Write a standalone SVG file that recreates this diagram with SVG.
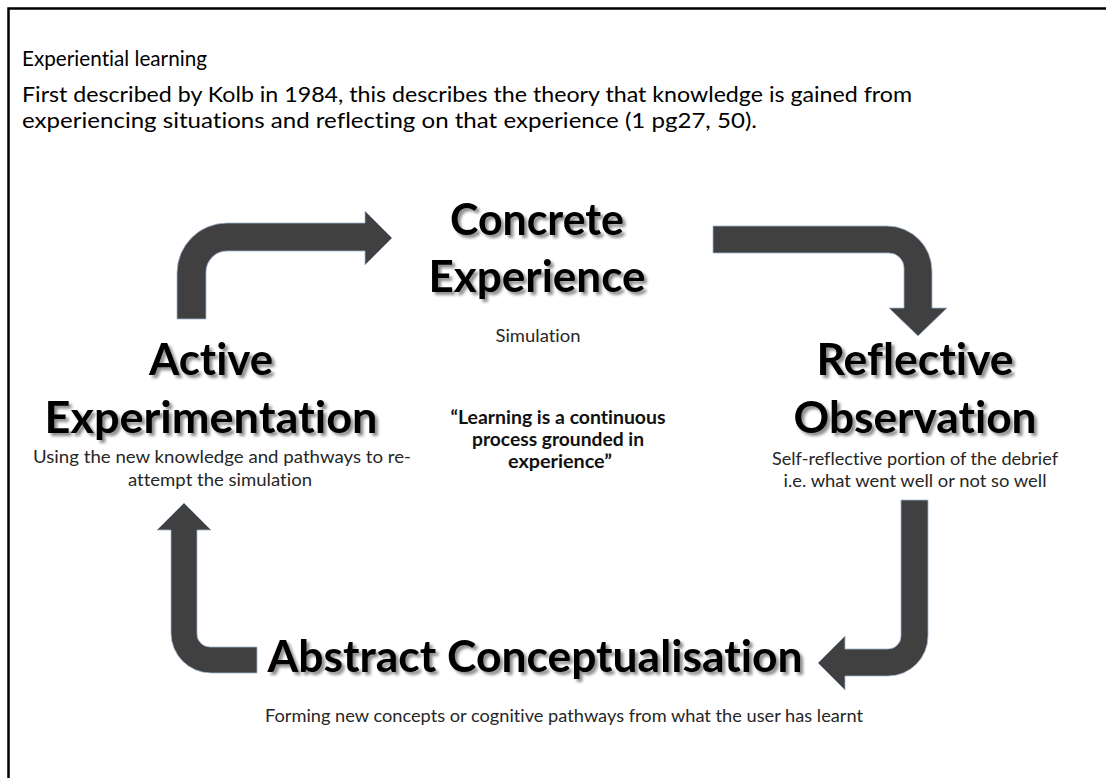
<svg xmlns="http://www.w3.org/2000/svg" width="1106" height="778" viewBox="0 0 1106 778">
<style>
  text{font-variant-ligatures:none;font-feature-settings:"liga" 0,"dlig" 0}
  .para{font-family:Lato,"Open Sans","Liberation Sans",sans-serif;font-size:20.5px;fill:#000}
  .head{font-family:Lato,"Open Sans","Liberation Sans",sans-serif;font-size:43px;font-weight:700;fill:#000;text-anchor:middle}
  .small{font-family:Lato,"Open Sans","Liberation Sans",sans-serif;font-size:17.8px;fill:#262626;text-anchor:middle}
  .quote{font-family:Lato,"Open Sans","Liberation Sans",sans-serif;font-size:18.8px;font-weight:700;fill:#111;text-anchor:middle}
  .arrow{fill:#404040;stroke:#9fb6d2;stroke-width:0.8}
  .frame{stroke:#000;stroke-width:2.5;fill:none}
</style>
<defs>
  <filter id="sh" x="-10%" y="-30%" width="130%" height="170%">
    <feGaussianBlur in="SourceAlpha" stdDeviation="1.6"/>
    <feOffset dx="2.5" dy="2.5" result="b"/>
    <feFlood flood-color="#000" flood-opacity="0.45"/>
    <feComposite in2="b" operator="in"/>
    <feMerge><feMergeNode/><feMergeNode in="SourceGraphic"/></feMerge>
  </filter>
</defs>
<rect width="1106" height="778" fill="#fff"/>
<path class="frame" d="M8.5,778 L8.5,8.5 L1106,8.5"/>

<g id="header">
  <text class="para" x="22" y="66" textLength="185" lengthAdjust="spacingAndGlyphs">Experiential learning</text>
  <text class="para" x="22" y="102" textLength="890" lengthAdjust="spacingAndGlyphs">First described by Kolb in 1984, this describes the theory that knowledge is gained from</text>
  <text class="para" x="22" y="128" textLength="735" lengthAdjust="spacingAndGlyphs">experiencing situations and reflecting on that experience (1 pg27, 50).</text>
</g>

<g id="connectors">
  <path class="arrow" d="M177,319 L177,273 A50,50 0 0 1 227,223 L365,223 L365,211 L392,238 L365,265 L365,251 L227,251 A21,21 0 0 0 206,272 L206,319 Z"/>
  <path class="arrow" d="M713,226 L887,226 A45,45 0 0 1 932,271 L932,308 L947,308 L918,336 L889,308 L904,308 L904,268 A15,15 0 0 0 889,253 L713,253 Z"/>
  <path class="arrow" d="M901,500 L928,500 L928,636 A40,40 0 0 1 888,676 L845,676 L845,690 L818,663 L845,636 L845,649 L888,649 A13,13 0 0 0 901,636 Z"/>
  <path class="arrow" d="M257,647 L257,673 L211,673 A40,40 0 0 1 171,633 L171,530 L157,530 L184,503 L211,530 L197,530 L197,634 A13,13 0 0 0 210,647 Z"/>
</g>

<g id="concrete">
  <text class="head" filter="url(#sh)" x="537" y="235" textLength="174" lengthAdjust="spacingAndGlyphs">Concrete</text>
  <text class="head" filter="url(#sh)" x="537" y="292" textLength="217" lengthAdjust="spacingAndGlyphs">Experience</text>
  <text class="small" x="538" y="342" textLength="85" lengthAdjust="spacingAndGlyphs">Simulation</text>
</g>

<g id="reflective">
  <text class="head" filter="url(#sh)" x="915" y="375" textLength="197" lengthAdjust="spacingAndGlyphs">Reflective</text>
  <text class="head" filter="url(#sh)" x="915" y="433" textLength="243" lengthAdjust="spacingAndGlyphs">Observation</text>
  <text class="small" x="915" y="465" textLength="286" lengthAdjust="spacingAndGlyphs">Self-reflective portion of the debrief</text>
  <text class="small" x="915" y="487" textLength="263" lengthAdjust="spacingAndGlyphs">i.e. what went well or not so well</text>
</g>

<g id="abstract">
  <text class="head" filter="url(#sh)" x="535" y="672" textLength="535" lengthAdjust="spacingAndGlyphs">Abstract Conceptualisation</text>
  <text class="small" x="564" y="722" textLength="598" lengthAdjust="spacingAndGlyphs">Forming new concepts or cognitive pathways from what the user has learnt</text>
</g>

<g id="active">
  <text class="head" filter="url(#sh)" x="211" y="375" textLength="124" lengthAdjust="spacingAndGlyphs">Active</text>
  <text class="head" filter="url(#sh)" x="211" y="433" textLength="333" lengthAdjust="spacingAndGlyphs">Experimentation</text>
  <text class="small" x="222" y="463" textLength="378" lengthAdjust="spacingAndGlyphs">Using the new knowledge and pathways to re-</text>
  <text class="small" x="220" y="486" textLength="184" lengthAdjust="spacingAndGlyphs">attempt the simulation</text>
</g>

<g id="quote">
  <text class="quote" x="558" y="424" textLength="215" lengthAdjust="spacingAndGlyphs">“Learning is a continuous</text>
  <text class="quote" x="558" y="446" textLength="172" lengthAdjust="spacingAndGlyphs">process grounded in</text>
  <text class="quote" x="560" y="468" textLength="104" lengthAdjust="spacingAndGlyphs">experience”</text>
</g>
</svg>
